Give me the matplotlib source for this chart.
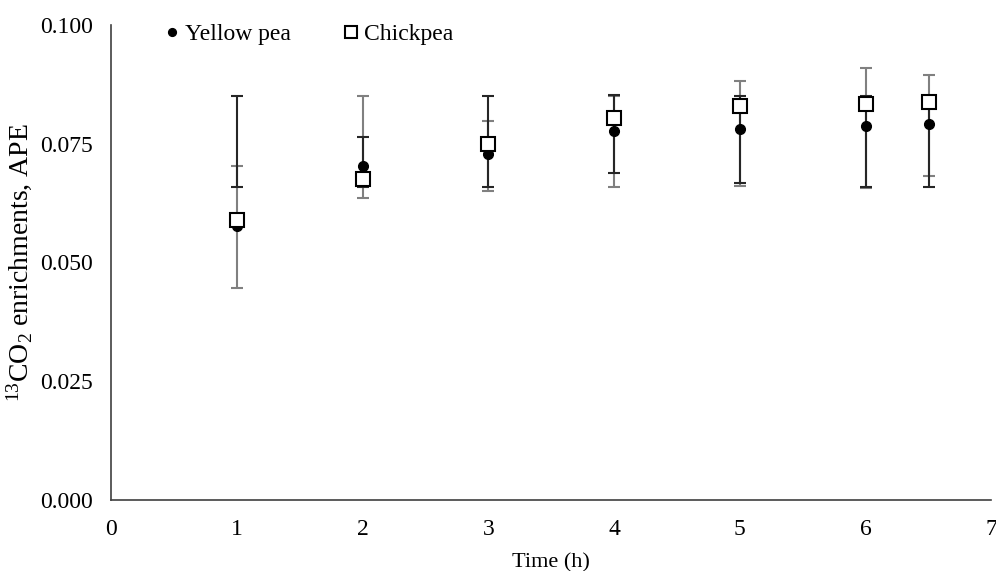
import matplotlib
matplotlib.use("Agg")
import matplotlib.pyplot as plt

plt.rcParams["font.family"] = ["Liberation Serif", "DejaVu Serif"]
plt.rcParams["mathtext.default"] = "regular"

times = [1, 2, 3, 4, 5, 6, 6.5]

# means
yellow_pea = [0.0577, 0.0703, 0.0728, 0.0776, 0.0781, 0.0788, 0.0792]
chickpea = [0.0590, 0.0676, 0.0749, 0.0805, 0.0829, 0.0833, 0.0838]

# error bar ends
yellow_lo = [0.0659, 0.0659, 0.0659, 0.0688, 0.0668, 0.0659, 0.0659]
yellow_hi = [0.0851, 0.0765, 0.0851, 0.0853, 0.0851, 0.0851, 0.0851]
chick_lo = [0.0446, 0.0636, 0.0651, 0.0659, 0.0661, 0.0657, 0.0682]
chick_hi = [0.0703, 0.0851, 0.0798, 0.0851, 0.0882, 0.0910, 0.0895]

DARK, GREY = "#262626", "#808080"

fig = plt.figure(figsize=(9.96, 5.71), dpi=100)
ax = fig.add_axes([0.1114, 0.1243, 0.884, 0.832])

for lo, hi, c in [(chick_lo, chick_hi, GREY), (yellow_lo, yellow_hi, DARK)]:
    ax.vlines(times, lo, hi, color=c, lw=1.5, zorder=2)
    ax.plot(times, lo, ls="none", marker="_", ms=8, mew=1.5, color=c, zorder=2)
    ax.plot(times, hi, ls="none", marker="_", ms=8, mew=1.5, color=c, zorder=2)

ax.plot(times, yellow_pea, ls="none", marker="o", ms=7, color="black",
        label="Yellow pea", zorder=3)
ax.plot(times, chickpea, ls="none", marker="s", ms=10, mfc="white", mec="black",
        mew=1.5, label="Chickpea", zorder=4)

ax.set_xlim(0, 7)
ax.set_ylim(0, 0.1)
ax.set_xticks(range(0, 8))
ax.set_yticks([0, 0.025, 0.05, 0.075, 0.1])
ax.set_yticklabels(["0.000", "0.025", "0.050", "0.075", "0.100"])
ax.tick_params(length=0, labelsize=17)
ax.tick_params(axis="x", pad=14)
ax.tick_params(axis="y", pad=13)
for s in ["top", "right"]:
    ax.spines[s].set_visible(False)
for s in ["left", "bottom"]:
    ax.spines[s].set_color("#404040")
    ax.spines[s].set_linewidth(1.2)

ax.set_xlabel("Time (h)", fontsize=16, labelpad=9)
ax.set_ylabel("$^{13}$CO$_2$ enrichments, APE", fontsize=20, labelpad=4)

ax.legend(loc="upper left", bbox_to_anchor=(0.141, 0.9965), bbox_transform=fig.transFigure,
          ncol=2, frameon=False, fontsize=17, handletextpad=0.1, columnspacing=2.1,
          handlelength=0.9, markerscale=0.8)

fig.savefig("out.png", dpi=100)
